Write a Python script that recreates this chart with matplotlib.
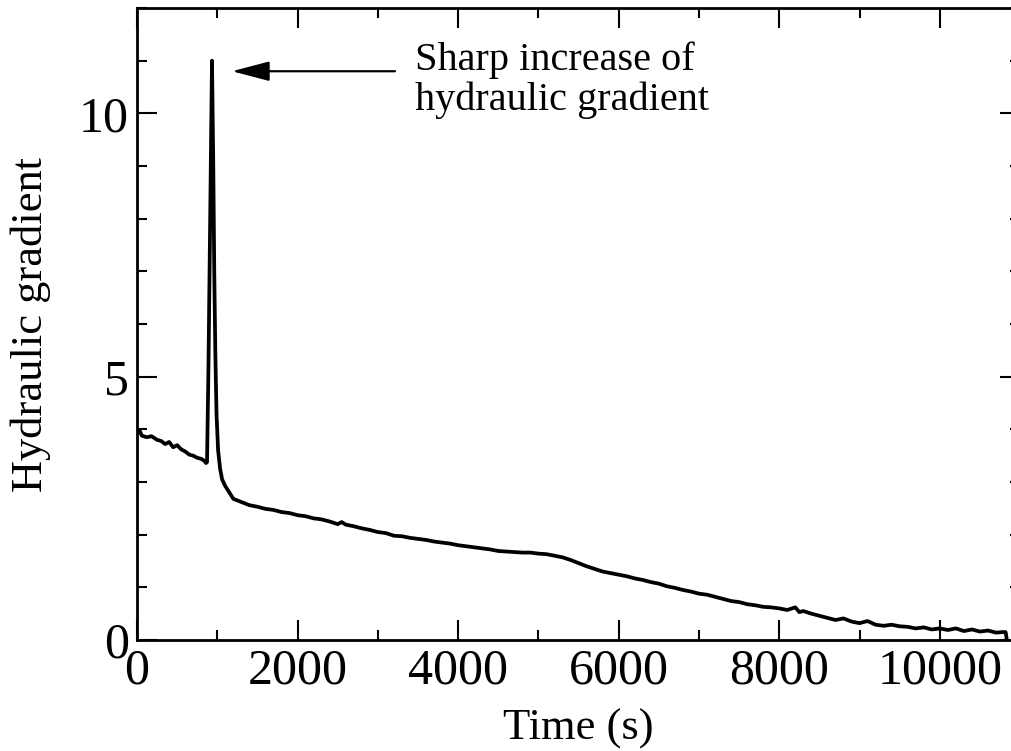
import numpy as np
import matplotlib
matplotlib.use("Agg")
import matplotlib.pyplot as plt
from matplotlib.ticker import MultipleLocator

# values (time in s, hydraulic gradient)
time_s = [0, 30, 60, 120, 180, 250, 300, 350, 400, 450,
          500, 550, 600, 650, 700, 750, 800, 840, 860, 872,
          890, 915, 934, 950, 962, 975, 990, 1010, 1035, 1060,
          1100, 1130, 1200, 1300, 1400, 1500, 1600, 1700, 1800, 1900, 2000,
          2100, 2200, 2300, 2400, 2500, 2550, 2600, 2700, 2800, 2900, 3000,
          3100, 3200, 3300, 3400, 3500, 3600, 3700, 3800, 3900, 4000,
          4100, 4200, 4300, 4400, 4500, 4600, 4700, 4800, 4900, 5000,
          5100, 5200, 5300, 5400, 5500, 5600, 5700, 5800, 5900, 6000,
          6100, 6200, 6300, 6400, 6500, 6600, 6700, 6800, 6900, 7000,
          7100, 7200, 7300, 7400, 7500, 7600, 7700, 7800, 7900, 8000,
          8100, 8200, 8250, 8300,
          8400, 8500, 8600, 8700, 8800, 8900, 9000,
          9100, 9200, 9300, 9400, 9500, 9600, 9700, 9800, 9900, 10000,
          10100, 10200, 10300, 10400, 10500, 10600, 10700,
          10780, 10820, 10835]
gradient = [3.92, 3.98, 3.88, 3.85, 3.87, 3.80, 3.78, 3.72, 3.76, 3.66,
            3.70, 3.62, 3.58, 3.52, 3.50, 3.46, 3.44, 3.40, 3.36, 3.38,
            5.2, 8.6, 11.0, 9.0, 7.0, 5.5, 4.3, 3.6, 3.25, 3.05,
            2.92, 2.85, 2.68, 2.62, 2.56, 2.53, 2.49, 2.47, 2.43, 2.41, 2.37,
            2.35, 2.31, 2.29, 2.25, 2.20, 2.24, 2.19, 2.16, 2.12, 2.09, 2.05,
            2.03, 1.98, 1.97, 1.94, 1.92, 1.90, 1.87, 1.85, 1.83, 1.80,
            1.78, 1.76, 1.74, 1.72, 1.69, 1.68, 1.67, 1.66, 1.66, 1.64,
            1.63, 1.60, 1.57, 1.52, 1.46, 1.40, 1.35, 1.30, 1.27, 1.24,
            1.21, 1.17, 1.14, 1.10, 1.07, 1.02, 0.99, 0.95, 0.92, 0.88,
            0.86, 0.82, 0.78, 0.74, 0.72, 0.68, 0.66, 0.63, 0.62, 0.60,
            0.57, 0.62, 0.53, 0.55,
            0.50, 0.46, 0.42, 0.38, 0.41, 0.35, 0.32,
            0.36, 0.29, 0.27, 0.29, 0.26, 0.25, 0.22, 0.24, 0.20, 0.22,
            0.19, 0.22, 0.17, 0.20, 0.16, 0.18, 0.14,
            0.15, 0.15, 0.0]

plt.rcParams['font.family'] = ['Liberation Serif', 'DejaVu Serif']

fig = plt.figure(figsize=(10.12, 7.51), dpi=100)
ax = fig.add_axes([0.1354, 0.1478, 1.008 - 0.1354, 0.9893 - 0.1478])

ax.plot(time_s, gradient, color='black', lw=2.7, solid_joinstyle='round')

ax.set_xlim(0, 11000)
ax.set_ylim(0, 12)
ax.xaxis.set_major_locator(MultipleLocator(2000))
ax.xaxis.set_minor_locator(MultipleLocator(1000))
ax.yaxis.set_major_locator(MultipleLocator(5))
ax.yaxis.set_minor_locator(MultipleLocator(1))
ax.tick_params(which='both', direction='in', top=True, right=True, width=1.5,
               labelsize=36)
ax.tick_params(which='major', length=14.5, pad=6)
ax.tick_params(which='minor', length=7.5)
for s in ax.spines.values():
    s.set_linewidth(2)

ax.set_xlabel('Time (s)', fontsize=32, labelpad=10)
ax.set_ylabel('Hydraulic gradient', fontsize=32, labelpad=20)

ax.annotate('', xy=(1183, 10.8), xytext=(3213, 10.8),
            arrowprops=dict(arrowstyle='-|>,head_length=0.8,head_width=0.21',
                            mutation_scale=29, color='black', lw=1.6,
                            shrinkA=0, shrinkB=0))
ax.text(3460, 11.37, 'Sharp increase of\nhydraulic gradient', fontsize=29,
        ha='left', va='top', linespacing=1.1)

fig.savefig('out.png', dpi=100)
